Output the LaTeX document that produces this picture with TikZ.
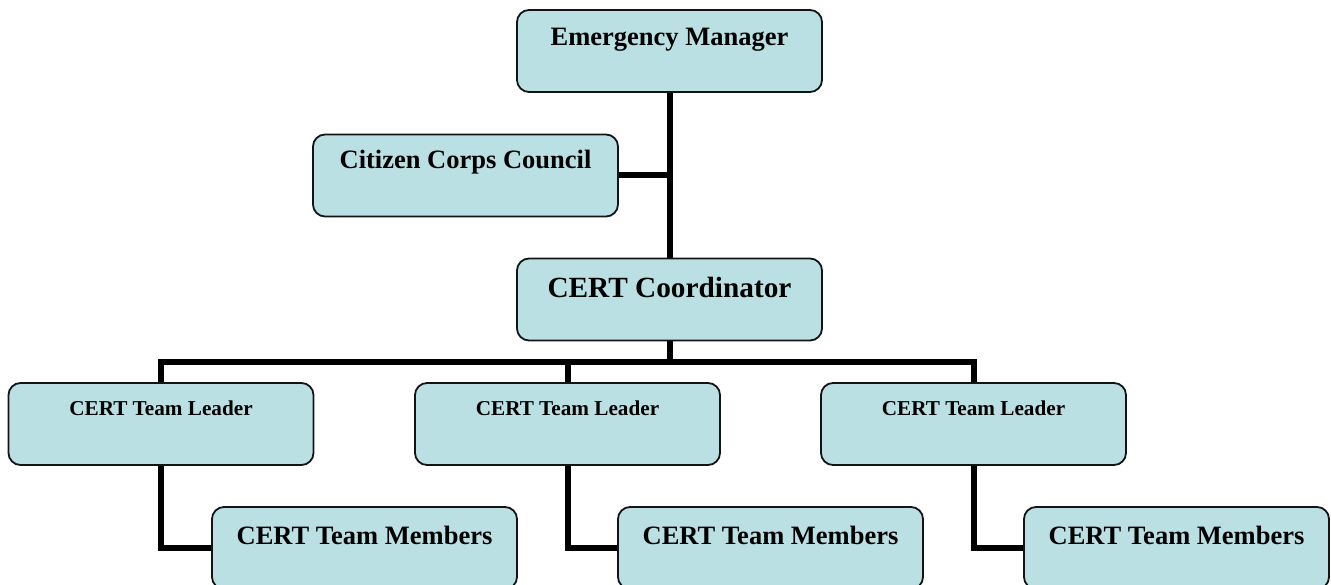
\documentclass[tikz,border=0pt]{standalone}
\usepackage{fontspec}
\setmainfont{Liberation Serif}
\definecolor{boxfill}{RGB}{186,224,227}
\definecolor{boxline}{RGB}{20,20,20}
\tikzset{
  orgbox/.style={draw=boxline, line width=1.8pt, fill=boxfill, rounded corners=12pt,
    minimum width=305pt, inner xsep=2pt, inner ysep=0pt, align=center,
    font=\bfseries\fontsize{#1}{#1}\selectfont},
  link/.style={line width=6pt, line join=miter, draw=black},
}
\begin{document}
\begin{tikzpicture}[x=1pt,y=-1pt]
\useasboundingbox (0,0) rectangle (1331,585);
\coordinate (bus) at (669.5,362);
\node[orgbox=26.5, text height=36pt, text depth=46pt] (em) at (669.5,51) {Emergency Manager};
\node[orgbox=26.5, text height=34pt, text depth=48pt] (ccc) at (465.5,175.5) {Citizen Corps Council};
\node[orgbox=29.3, text height=39pt, text depth=43pt] (coord) at (669.5,299.5) {CERT Coordinator};
\node[orgbox=21.2, text height=32pt, text depth=50pt] (tl1) at (161,424) {CERT Team Leader};
\node[orgbox=21.2, text height=32pt, text depth=50pt] (tl2) at (567.5,424) {CERT Team Leader};
\node[orgbox=21.2, text height=32pt, text depth=50pt] (tl3) at (973.5,424) {CERT Team Leader};
\node[orgbox=26.5, text height=37pt, text depth=45pt] (tm1) at (364.5,548) {CERT Team Members};
\node[orgbox=26.5, text height=37pt, text depth=45pt] (tm2) at (770.5,548) {CERT Team Members};
\node[orgbox=26.5, text height=37pt, text depth=45pt] (tm3) at (1176.5,548) {CERT Team Members};
\draw[link] (em.south) -- (coord.north);
\draw[link] (ccc.east) -- (ccc.east -| em.south);
\draw[link] (coord.south) -- (bus);
\draw[link] (tl1.north) -- (tl1.north |- bus) -- (tl3.north |- bus) -- (tl3.north);
\draw[link] (tl2.north) -- (tl2.north |- bus);
\draw[link] (tl1.south) |- (tm1.west);
\draw[link] (tl2.south) |- (tm2.west);
\draw[link] (tl3.south) |- (tm3.west);
\end{tikzpicture}
\end{document}
